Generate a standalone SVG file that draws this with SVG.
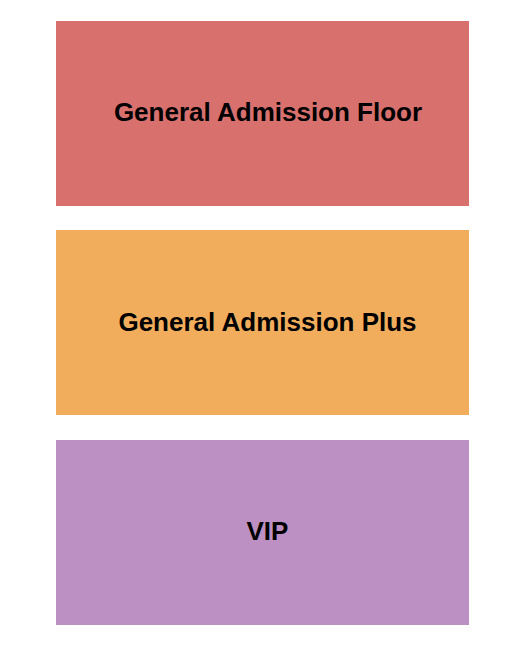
<svg xmlns="http://www.w3.org/2000/svg" width="525" height="650" viewBox="0 0 525 650">
<style>
.lbl{font-family:"Liberation Sans",Arial,sans-serif;font-weight:bold;font-size:26px;fill:#000;text-anchor:middle}
</style>
<rect width="525" height="650" fill="#ffffff"/>
<g id="ga-floor">
<rect x="56" y="21" width="413" height="185" fill="#d8706e"/>
<text class="lbl" x="268" y="121">General Admission Floor</text>
</g>
<g id="ga-plus">
<rect x="56" y="230" width="413" height="185" fill="#f2ad5c"/>
<text class="lbl" x="267.5" y="331">General Admission Plus</text>
</g>
<g id="vip">
<rect x="56" y="440" width="413" height="185" fill="#bc90c2"/>
<text class="lbl" x="267.5" y="540">VIP</text>
</g>
<g id="connectors"/>
</svg>
